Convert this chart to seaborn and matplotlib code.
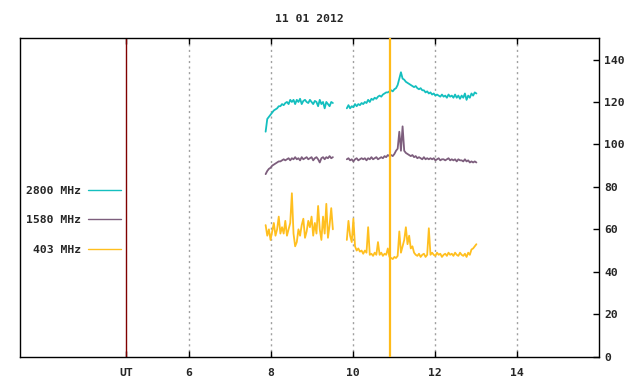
import numpy as np
import pandas as pd
import matplotlib
matplotlib.use("Agg")
import matplotlib.pyplot as plt
from matplotlib.lines import Line2D
import seaborn as sns

# ---------------- data ----------------
title = "11 01 2012"
series_names = ["2800 MHz", "1580 MHz", "403 MHz"]
series_colors = ["#14bfbf", "#7d5e7d", "#ffbf1f"]

t_seg1 = np.linspace(7.88, 9.52, 42)
t_seg2 = np.linspace(9.86, 13.02, 80)

f2800_seg1 = [106, 112, 113, 114, 115, 116, 116.5, 117, 118, 118,
              119, 118.5, 119.5, 120, 119, 121, 120, 121, 119, 121,
              120, 121.5, 119, 120.5, 121, 120, 119.5, 121, 120, 119,
              120.5, 120, 118, 121, 119, 120, 117, 120, 119, 118,
              120, 119.5]
f2800_seg2 = [117, 118.5, 117, 118, 117.5, 119, 118, 119, 118.5, 119.5,
              119, 120, 119.5, 121, 120, 121.5, 121, 122, 121.5, 122.5,
              123, 122.5, 123.5, 124, 124.5, 124.5, 125, 125.5, 125, 126,
              126.5, 128, 131, 134, 131, 130.5, 129.5, 129, 128.5, 128,
              127.5, 127, 127.5, 126.5, 126, 126.5, 125.5, 125.5, 124.5, 125,
              124, 124.5, 123.5, 124, 123, 123.5, 123, 122.5, 123.5, 122.5,
              123, 122, 123.5, 122.5, 123, 122, 123.5, 122, 123, 121.5,
              123, 122, 124, 121, 123, 122, 124, 123, 124.5, 124]

f1580_seg1 = [86, 87.5, 88.5, 89, 90, 90.5, 91, 91.5, 92, 92,
              92.5, 93, 92.5, 93, 93.5, 92.5, 93.5, 93, 94, 93,
              93.5, 92.5, 94, 93, 93.5, 94, 93, 93.5, 94, 92.5,
              93.5, 94, 93, 91.5, 93.5, 94, 93, 94, 93.5, 94.5,
              93.5, 94]
f1580_seg2 = [93, 93.5, 92.5, 93, 92, 93, 93.5, 92.5, 93, 93.5,
              93, 93.5, 92.5, 93.5, 93, 94, 93, 93.5, 94, 93,
              93.5, 94, 93.5, 94.5, 94, 95, 94.5, 95, 94.5, 95.5,
              97, 98, 106, 97, 108.5, 97, 96, 95.5, 95, 94.5,
              95, 94, 94.5, 93.5, 94, 93.5, 93, 94, 93, 93.5,
              93, 93.5, 93, 93.5, 92.5, 93, 93.5, 92.5, 93, 93,
              92.5, 93, 93.5, 92.5, 93, 92.5, 93, 92, 93, 92.5,
              92.5, 92, 93, 92, 92.5, 91.5, 92, 91.5, 92, 91.5]

f403_seg1 = [62, 57, 60, 55, 59, 63, 57, 60, 66, 58,
             61, 58, 64, 57, 60, 63, 77, 58, 52, 54,
             60, 57, 62, 65, 56, 59, 64, 61, 66, 57,
             63, 58, 71, 60, 55, 66, 58, 72, 56, 62,
             70, 60]
f403_seg2 = [55, 64, 57, 54, 65, 52, 50, 51, 49.5, 50,
             48.5, 50, 49, 61, 48, 48.5, 47.5, 49, 48, 54,
             48, 49, 47.5, 48.5, 48, 51, 47, 46.5, 46, 47,
             46.5, 47.5, 59, 49, 52, 55, 61, 53, 57, 51,
             52, 49, 48, 47.5, 48.5, 47, 48, 48.5, 47, 48,
             60.5, 48, 49, 48, 47.5, 49, 48, 48.5, 47, 48,
             48.5, 47.5, 49, 48, 48.5, 47.5, 49, 48, 47.5, 49,
             48, 47.5, 48.5, 47, 49, 48, 50.5, 51, 52, 53]

ut_time = 4.47
event_time = 10.91
xtick_values = [6, 8, 10, 12, 14]
ytick_values = [0, 20, 40, 60, 80, 100, 120, 140]

# ---------------- table ----------------
frames = []
for name, s1, s2 in [(series_names[0], f2800_seg1, f2800_seg2),
                     (series_names[1], f1580_seg1, f1580_seg2),
                     (series_names[2], f403_seg1, f403_seg2)]:
    frames.append(pd.DataFrame({"t": t_seg1, "v": s1, "series": name, "seg": 1}))
    frames.append(pd.DataFrame({"t": t_seg2, "v": s2, "series": name, "seg": 2}))
df = pd.concat(frames, ignore_index=True)

# ---------------- plot ----------------
sns.set_theme(style="white")
plt.rcParams["font.family"] = ["DejaVu Sans Mono", "DejaVu Sans"]
plt.rcParams["font.weight"] = "bold"

fig = plt.figure(figsize=(6.4, 3.84), dpi=100)
ax = fig.add_axes([0.0319, 0.0711, 0.9034, 0.8292])

for xv in xtick_values:
    ax.axvline(xv, color="#a0a0a0", lw=1.0, ls=(0, (1.5, 2.5)), zorder=0)
ax.axvline(ut_time, color="#800000", lw=1.0, zorder=1)

palette = dict(zip(series_names, series_colors))
sns.lineplot(data=df, x="t", y="v", hue="series", units="seg", estimator=None,
             palette=palette, hue_order=series_names, lw=1.3, legend=False,
             ax=ax, zorder=2)

ax.axvline(event_time, color="#ffbb1a", lw=1.6, zorder=3)

ax.set_xlim(1.9, 16.0)
ax.set_ylim(0, 150)
ax.set_xlabel("")
ax.set_ylabel("")

fs = 8.2
ax.set_xticks([ut_time] + xtick_values)
ax.set_xticklabels(["UT"] + [str(v) for v in xtick_values], fontsize=fs,
                   fontweight="bold")
ax.tick_params(axis="x", direction="in", length=4, width=1, color="black",
               top=True, bottom=True, pad=8)
ax.yaxis.tick_right()
ax.set_yticks(ytick_values)
ax.set_yticklabels([str(v) for v in ytick_values], fontsize=fs, fontweight="bold")
ax.tick_params(axis="y", direction="in", length=4, width=1, color="black",
               right=True, left=False, pad=4)

for sp in ax.spines.values():
    sp.set_visible(True)
    sp.set_color("black")
    sp.set_linewidth(1.0)

ax.set_title(title, fontsize=fs, fontweight="bold", pad=12)

handles = [Line2D([], [], color=c, lw=1.0) for c in series_colors]
leg = ax.legend(handles, series_names, loc="center right",
                bbox_to_anchor=(0.174, 0.428), frameon=False,
                markerfirst=False, handlelength=2.9, handletextpad=0.6,
                labelspacing=1.72, borderpad=0, borderaxespad=0,
                prop={"family": "DejaVu Sans Mono", "weight": "bold", "size": fs})

fig.savefig("out.png", dpi=100)
